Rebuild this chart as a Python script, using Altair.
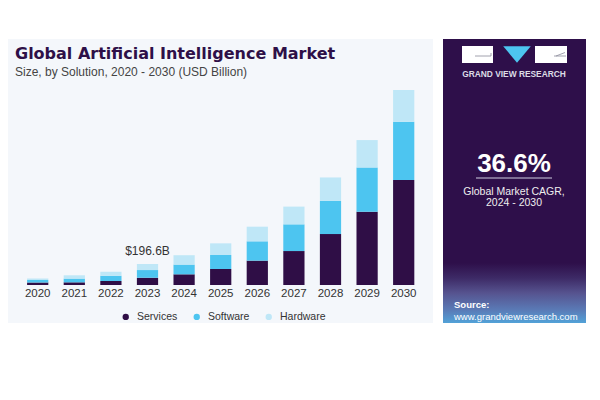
import altair as alt
import pandas as pd

years = ["2020", "2021", "2022", "2023", "2024", "2025", "2026", "2027", "2028", "2029", "2030"]
services = [24, 25, 37, 68, 100, 150, 228, 318, 477, 686, 983]
software = [22, 35, 50, 72, 91, 131, 181, 250, 312, 415, 546]
hardware = [14, 31, 37, 56.6, 88, 109, 137, 166, 218, 256, 297]
solutions = ["Services", "Software", "Hardware"]
colors = ["#2f0e46", "#4dc5f0", "#bfe7f7"]
annot_year = "2023"
annot_value = 196.6
annot_label = "$196.6B"

rows = []
for i, y in enumerate(years):
    for k, (name, vals) in enumerate(zip(solutions, [services, software, hardware])):
        rows.append({"year": y, "solution": name, "value": vals[i], "ord": k})
df = pd.DataFrame(rows)

W, H = 584, 384
xscale = alt.Scale(domain=years, range=[11.4, 414], paddingInner=0.42, paddingOuter=0.21)
yscale = alt.Scale(domain=[0, 2000], range=[277, 63.4], nice=False, zero=True)

one = alt.Data(values=[{"a": 1}])

def box(x, x2, y, y2, color, **kw):
    return alt.Chart(one).mark_rect(color=color, **kw).encode(
        x=alt.value(x), x2=alt.value(x2), y=alt.value(y), y2=alt.value(y2))

def txt(s, x, y, **kw):
    return alt.Chart(one).mark_text(text=s, **kw).encode(x=alt.value(x), y=alt.value(y))

def line(x, x2, y, y2, color, w=1):
    return alt.Chart(one).mark_rule(color=color, strokeWidth=w).encode(
        x=alt.value(x), x2=alt.value(x2), y=alt.value(y), y2=alt.value(y2))

PANEL = "#2e0f4a"

bg = box(0, 425, 31, 315, "#f4f7fb")
panel = box(435, 578, 31, 315, PANEL)
grad = alt.Chart(one).mark_rect(
    color=alt.LinearGradient(
        gradient="linear", x1=0, x2=0, y1=0, y2=1,
        stops=[alt.GradientStop(color=PANEL, offset=0),
               alt.GradientStop(color="#3d2a66", offset=0.25),
               alt.GradientStop(color="#56538f", offset=0.5),
               alt.GradientStop(color="#5a7ab6", offset=0.78),
               alt.GradientStop(color="#52a2d8", offset=1)])
).encode(x=alt.value(435), x2=alt.value(578), y=alt.value(255), y2=alt.value(315))

title = txt("Global Artificial Intelligence Market", 7, 51, align="left", baseline="alphabetic",
            font="DejaVu Sans", fontWeight="bold", fontSize=16, color="#2e1048")
subtitle = txt("Size, by Solution, 2020 - 2030 (USD Billion)", 7, 67.5, align="left",
               baseline="alphabetic", font="Liberation Sans", fontSize=12, color="#444444")

bars = alt.Chart(df).mark_bar().encode(
    x=alt.X("year:O", scale=xscale, axis=None),
    y=alt.Y("value:Q", stack="zero", scale=yscale, axis=None),
    color=alt.Color("solution:N", scale=alt.Scale(domain=solutions, range=colors),
                    legend=alt.Legend(orient="none", legendX=112.5, legendY=303.5, direction="horizontal",
                                      title=None, symbolType="circle", symbolSize=40,
                                      labelFontSize=10.5, labelFont="Liberation Sans",
                                      labelColor="#333333", columnPadding=14, labelOffset=6,
                                      padding=0, symbolStrokeWidth=0)),
    order=alt.Order("ord:Q", sort="ascending"),
)

year_labels = alt.Chart(pd.DataFrame({"year": years})).mark_text(
    baseline="middle", font="Liberation Sans", fontSize=11.5, color="#333333"
).encode(x=alt.X("year:O", scale=xscale, axis=None), y=alt.value(285.5), text="year:N")

annot = alt.Chart(pd.DataFrame({"year": [annot_year], "total": [annot_value], "label": [annot_label]})).mark_text(
    baseline="middle", font="Liberation Sans", fontSize=12, color="#333333", dy=-13
).encode(x=alt.X("year:O", scale=xscale, axis=None), y=alt.Y("total:Q", scale=yscale, axis=None), text="label:N")

# logo
logo_l = box(454, 485, 38, 55, "#ffffff")
logo_r = box(527, 559, 38, 55, "#ffffff")
tri = alt.Chart(one).mark_point(shape="M -1 -0.6 L 1 -0.6 L 0 0.6 Z", filled=True, size=760,
                                color="#4dc5f0", opacity=1).encode(x=alt.value(509), y=alt.value(46.5))
l1 = line(467, 483, 48, 48, "#8a8a9a", 0.8)
l2 = line(483, 483, 45, 48, "#8a8a9a", 0.8)
l3 = line(546, 558, 48, 48, "#8a8a9a", 0.8)
l4 = line(548, 557, 48, 44.5, "#8a8a9a", 0.8)
brand = txt("GRAND VIEW RESEARCH", 506, 65.5, align="center", baseline="middle",
            font="Liberation Sans", fontWeight="bold", fontSize=8.4, color="#dcdce6")

cagr = txt("36.6%", 506, 164, align="center", baseline="alphabetic", font="Liberation Sans",
           fontWeight="bold", fontSize=26, color="#ffffff")
cagr_rule = line(468, 544, 170, 170, "#cfcfe0", 1)
cagr1 = txt("Global Market CAGR,", 506, 183.7, align="center", baseline="middle",
            font="Liberation Sans", fontSize=10.5, color="#eeeeee")
cagr2 = txt("2024 - 2030", 506, 195.3, align="center", baseline="middle",
            font="Liberation Sans", fontSize=10.5, color="#eeeeee")
src1 = txt("Source:", 446, 297, align="left", baseline="middle", font="Liberation Sans",
           fontWeight="bold", fontSize=9.5, color="#ffffff")
src2 = txt("www.grandviewresearch.com", 446, 308.7, align="left", baseline="middle",
           font="Liberation Sans", fontSize=9.5, color="#ffffff")

chart = alt.layer(
    bg, panel, grad, title, subtitle, bars, year_labels, annot,
    logo_l, logo_r, tri, l1, l2, l3, l4, brand, cagr, cagr_rule, cagr1, cagr2, src1, src2
).properties(width=W, height=H, autosize="none", padding=0, background="#ffffff"
).configure_view(strokeWidth=0)

chart.save("out.html", embed_options={"renderer": "svg", "actions": False})
